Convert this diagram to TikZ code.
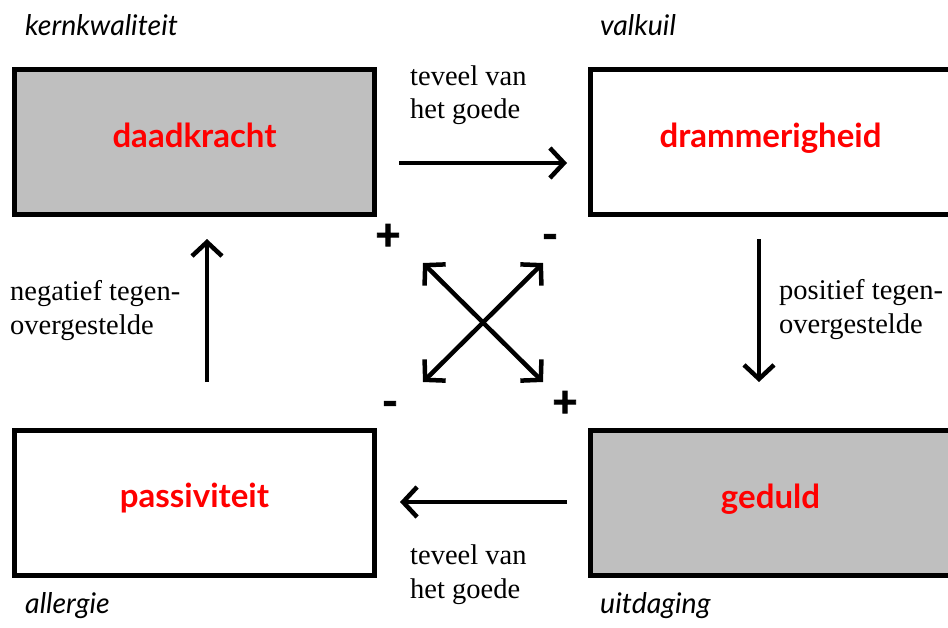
\documentclass[tikz,border=0pt]{standalone}
\usepackage{fontspec}
\setmainfont{Liberation Serif}
\newfontfamily\gill{Lato}
\newfontfamily\signfont[BoldFeatures={FakeBold=2}]{Lato}
\usetikzlibrary{arrows.meta}
\definecolor{boxgrey}{RGB}{191,191,191}
\begin{document}
\begin{tikzpicture}[x=1pt,y=-1pt,
  quality/.style={draw=black, line width=5pt, minimum width=360pt, minimum height=145pt,
    inner sep=0pt, text height=18pt, text depth=8pt, text=red,
    font=\gill\bfseries\fontsize{33}{36}\selectfont},
  corner/.style={font=\gill\itshape\fontsize{28.5}{32}\selectfont, anchor=base west, inner sep=0pt},
  desc/.style={font=\fontsize{28.5}{33}\selectfont, anchor=base west, inner sep=0pt},
  arr/.style={line width=4.5pt, -{Straight Barb[length=14pt,width=30pt]}},
  dbl/.style={line width=4.5pt, {Straight Barb[length=14pt,width=30pt]}-{Straight Barb[length=14pt,width=30pt]}},
  sign/.style={font=\signfont\bfseries\fontsize{44}{44}\selectfont, inner sep=0pt}]
\clip (0,0) rectangle (948,627);
\useasboundingbox (0,0) rectangle (948,627);
% boxes
\node[quality, fill=boxgrey] (kern) at (194.5,142) {daadkracht};
\node[quality, fill=white] (valk) at (770.5,142) {drammerigheid};
\node[quality, fill=white] (aller) at (194.5,502.5) {passiviteit};
\node[quality, fill=boxgrey] (uitd) at (770.5,503) {geduld};
% corner labels
\node[corner] (lk) at (25,35) {kernkwaliteit};
\node[corner] (lv) at (600,35) {valkuil};
\node[corner] (la) at (25,613) {allergie};
\node[corner] (lu) at (600,613) {uitdaging};
% descriptions
\node[desc] (t1a) at (410,85) {teveel van};
\node[desc] (t1b) at (410,118) {het goede};
\node[desc] (t2a) at (410,564) {teveel van};
\node[desc] (t2b) at (410,598) {het goede};
\node[desc] (n1) at (10,300) {negatief tegen-};
\node[desc] (n2) at (10,334) {overgestelde};
\node[desc] (p1) at (779,299) {positief tegen-};
\node[desc] (p2) at (779,333) {overgestelde};
% arrow end points
\coordinate (a1s) at (399,163); \coordinate (a1e) at (567,163);
\coordinate (a2s) at (759,239); \coordinate (a2e) at (759,382);
\coordinate (a3s) at (567,502); \coordinate (a3e) at (400,502);
\coordinate (a4s) at (207,382); \coordinate (a4e) at (207,239);
\coordinate (xtl) at (423,263); \coordinate (xbr) at (543,382);
\coordinate (xtr) at (543,263); \coordinate (xbl) at (423,382);
\draw[arr] (a1s) -- (a1e);
\draw[arr] (a2s) -- (a2e);
\draw[arr] (a3s) -- (a3e);
\draw[arr] (a4s) -- (a4e);
\draw[dbl] (xtl) -- (xbr);
\draw[dbl] (xtr) -- (xbl);
% signs
\node[sign] (s1) at (388,237) {+};
\node[sign] (s2) at (550,242) {-};
\node[sign] (s3) at (390,409) {-};
\node[sign] (s4) at (565,404) {+};
\end{tikzpicture}
\end{document}
